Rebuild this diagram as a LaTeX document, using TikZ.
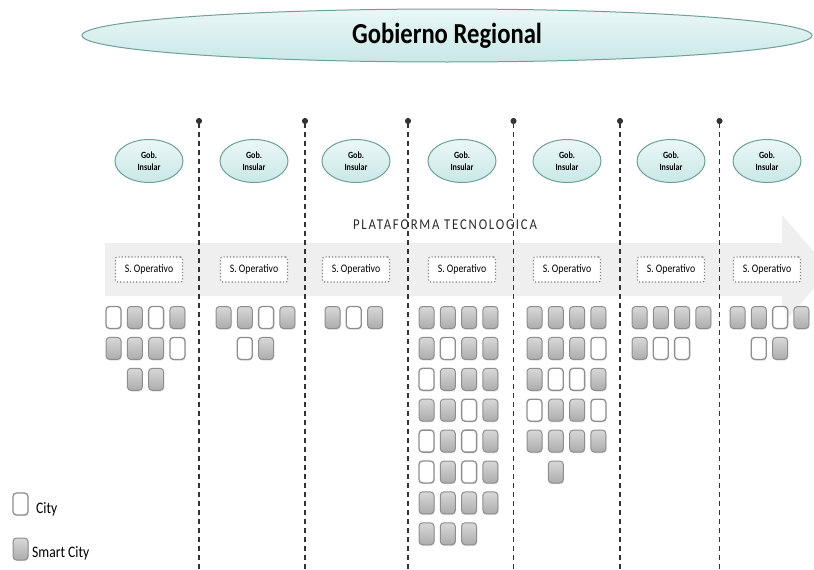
\documentclass[tikz,border=0pt]{standalone}
\usepackage{fontspec}
\setmainfont{Carlito}[FakeStretch=0.85]
\newfontfamily\platfont{Carlito}[FakeStretch=0.85,LetterSpace=12]
\usetikzlibrary{shapes.geometric,arrows.meta,shadows}
\definecolor{lagoon}{HTML}{C9E8E6}
\definecolor{lagoontop}{HTML}{EAF7F7}
\definecolor{lagoonedge}{HTML}{6E9F9A}
\definecolor{band}{HTML}{EFEFEF}
\definecolor{pebble}{HTML}{ACACAC}
\definecolor{pebbletop}{HTML}{D8D8D8}
\definecolor{pebbleedge}{HTML}{8E8E8E}
\definecolor{fence}{HTML}{333333}
\definecolor{inkgray}{HTML}{2A2A2A}
\tikzset{
  region/.style={ellipse,draw=lagoonedge,line width=1pt,top color=lagoontop,bottom color=lagoon,
    minimum width=730pt,minimum height=53pt,inner sep=0pt,font=\bfseries\fontsize{29}{30}\selectfont},
  gob/.style={ellipse,draw=lagoonedge,line width=1pt,top color=lagoontop,bottom color=lagoon,
    minimum width=68pt,minimum height=43pt,inner sep=0pt,align=center,
    font=\bfseries\fontsize{9.5}{12}\selectfont},
  sop/.style={draw=gray,dotted,line width=1.2pt,rounded corners=2pt,fill=white,
    minimum width=67pt,minimum height=25pt,inner sep=0pt,font=\fontsize{11.5}{12}\selectfont},
  sqbase/.style={rounded corners=3.5pt,minimum width=15pt,minimum height=22pt,inner sep=0pt,
    drop shadow={opacity=0.25,shadow xshift=0.6pt,shadow yshift=-1.2pt}},
  smart/.style={sqbase,draw=pebbleedge,line width=1pt,top color=pebbletop,bottom color=pebble},
  city/.style={sqbase,draw=pebbleedge,line width=1.3pt,fill=white},
  plat/.style={inner sep=0pt,text=inkgray,font=\platfont\fontsize{15}{16}\selectfont},
  legtxt/.style={inner sep=0pt,anchor=west,font=\fontsize{16}{18}\selectfont},
  fence line/.style={draw=fence,line width=1.6pt,dash pattern=on 5pt off 4pt,{Circle[length=6pt]}-}
}

\begin{document}
\begin{tikzpicture}[x=1pt,y=1pt]
  \useasboundingbox (0,0) rectangle (814,-570);

  % plataforma arrow
  \fill[band] (105,-243) -- (782,-243) -- (782,-215) -- (830,-270)
    -- (782,-325) -- (782,-296) -- (105,-296) -- cycle;
  \node[plat] (platf) at (445,-225) {PLATAFORMA TECNOLOGICA};

  % separators
  \foreach \xs [count=\j] in {199,305,408,513.5,620,719.5}{
    \coordinate (sept\j) at (\xs,-118);
    \coordinate (sepb\j) at (\xs,-572);
    \draw[fence line] (sept\j) -- (sepb\j);
  }

  \node[region] (gobreg) at (447,-35.5) {Gobierno Regional};

  \foreach \n/\xc in {1/149,2/254,3/356,4/462,5/567,6/671,7/767}{
    \node[gob] (gob\n) at (\xc,-161) {Gob.\\Insular};
    \node[sop] (sop\n) at (\xc,-269.5) {S. Operativo};
  }

  % cities per island: offset/{row}
  \foreach \n/\x/\rows in {
    1/113.5/{0/{city,smart,city,smart},0/{smart,smart,smart,city},1/{smart,smart}},
    2/223.5/{0/{smart,smart,city,smart},1/{city,smart}},
    3/332.5/{0/{smart,city,smart}},
    4/426.5/{0/{smart,smart,smart,smart},0/{smart,city,smart,smart},0/{city,smart,smart,smart},
             0/{smart,smart,city,smart},0/{city,smart,city,smart},0/{city,smart,city,smart},
             0/{smart,smart,smart,smart},0/{smart,smart,smart}},
    5/534.5/{0/{smart,smart,smart,smart},0/{smart,smart,smart,city},0/{smart,city,city,smart},
             0/{city,smart,smart,city},0/{smart,smart,smart,smart},1/{smart}},
    6/639.5/{0/{smart,smart,smart,smart},0/{smart,city,city}},
    7/737.5/{0/{smart,smart,city,smart},1/{city,smart}}}{
    \foreach \s/\items [count=\r] in \rows{
      \foreach \k [count=\i] in \items{
        \node[\k] (sq\n-\r-\i) at ({\x+21.3*(\s+\i-1)},{-317.5-30.9*(\r-1)}) {};
      }
    }
  }

  % legend
  \node[city] (legcity) at (20.5,-504) {};
  \node[legtxt] (legcitytxt) at (36,-509) {City};
  \node[smart] (legsmart) at (20.5,-549) {};
  \node[legtxt] (legsmarttxt) at (32,-553) {Smart City};
\end{tikzpicture}
\end{document}
